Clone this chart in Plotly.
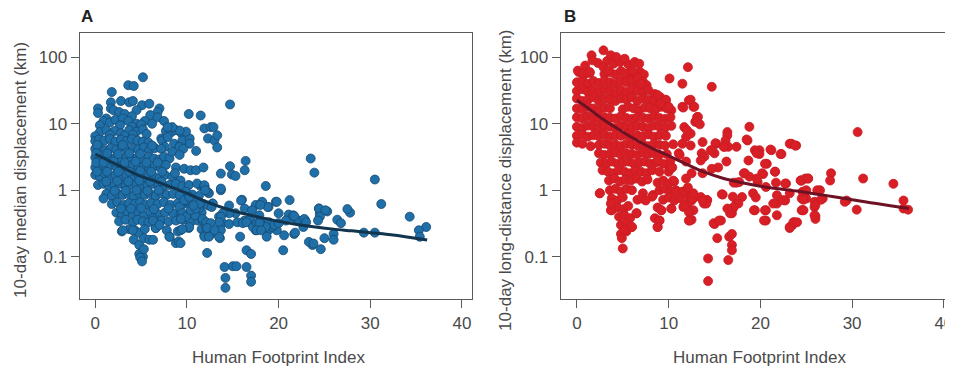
import plotly.graph_objects as go

# page body has an 8px margin, so the figure is 8px smaller than the window and
# all pixel positions below are given in page pixels and shifted by OFF.
OFF = 8
W, H = 953 - OFF, 369 - OFF


def px(x):
    return (x - OFF) / W


def py(y):
    return 1 - (y - OFF) / H


# ---------------- Panel A: 10-day median displacement ----------------
a_x_top = [5.2, 3.6, 4.2, 1.8, 14.7, 10.2, 11.5, 1.7, 2.8, 3.7, 4.1]
a_y_top = [50, 38, 37, 30, 19.5, 14, 13.3, 21, 22, 21, 22]

a_x_hi = [0.3, 0.3, 1.7, 2.0, 5.1, 5.9, 7.0, 6.8, 2.6, 3.2, 4.5, 6.0, 6.8, 7.5, 1.2, 4.0]
a_y_hi = [17, 14.5, 17, 16, 19, 20, 17, 15, 15, 14, 16, 13.5, 12.5, 11, 12, 13]

a_x_10 = [0.9, 1.6, 2.2, 3.0, 3.6, 4.5, 5.4, 6.2, 0.5, 2.7, 4.0, 5.0]
a_y_10 = [11, 10.5, 11.5, 12, 11, 10, 11, 10, 9.5, 9.5, 9, 9.8]

a_x_8 = [0.5, 1.2, 2.1, 2.8, 3.7, 4.5, 5.2, 5.6, 7.7, 8.3, 8.8, 9.4, 0.0, 1.6, 3.2, 4.1, 7.2]
a_y_8 = [7.5, 8.0, 7.8, 7.2, 8.0, 7.6, 8.2, 7.0, 7.8, 7.5, 8.0, 7.2, 6.5, 6.8, 6.6, 6.9, 6.0]

a_x_6 = [0.0, 0.4, 1.0, 1.6, 2.2, 2.8, 3.4, 4.0, 4.6, 5.2, 7.3, 7.9, 8.6, 9.3, 10.2, 12.3, 5.8, 7.6]
a_y_6 = [5.5, 5.8, 5.6, 5.9, 5.4, 5.8, 5.5, 5.9, 5.6, 5.4, 5.6, 6.3, 5.0, 4.8, 5.6, 6.0, 5.2, 4.5]

a_x_6b = [9.5, 10.3, 9.9, 9.2, 8.4, 7.9, 9.2, 11.9, 12.6, 12.9, 13.0, 13.3, 13.3, 11.0, 10.3]
a_y_6b = [5.6, 6.0, 7.6, 7.9, 8.9, 8.9, 4.5, 8.5, 8.9, 8.9, 5.6, 6.7, 4.4, 3.9, 5.0]

a_x_4 = [0.0, 0.5, 1.1, 1.7, 2.3, 2.9, 3.5, 4.1, 4.7, 5.3, 5.9, 6.5, 7.2, 9.6, 0.2, 3.0, 6.2]
a_y_4 = [4.2, 4.4, 4.0, 4.3, 4.1, 4.5, 4.0, 4.3, 4.1, 4.4, 4.0, 4.3, 4.2, 4.2, 4.8, 4.8, 4.7]

a_x_3 = [0.0, 0.5, 1.0, 1.6, 2.2, 2.8, 3.4, 4.0, 4.6, 5.2, 5.8, 6.4, 7.0, 7.5, 8.1, 8.4, 9.2,
         0.1, 1.3, 2.5, 3.7, 4.9]
a_y_3 = [3.1, 2.9, 3.2, 3.0, 3.1, 2.9, 3.2, 3.0, 3.1, 2.9, 3.2, 3.0, 2.9, 3.2, 3.0, 3.8, 3.4,
         3.6, 3.6, 3.5, 3.6, 3.5]

a_x_2 = [0.0, 0.5, 1.1, 1.7, 2.3, 2.9, 3.5, 4.1, 4.7, 5.3, 5.9, 6.5, 7.1, 7.7, 8.8, 9.7, 10.4,
         11.0, 11.8, 0.1, 0.9, 2.0, 3.2, 4.4, 5.6, 6.8]
a_y_2 = [2.2, 2.3, 2.1, 2.4, 2.2, 2.3, 2.1, 2.4, 2.2, 2.3, 2.1, 2.3, 2.2, 2.4, 2.2, 2.1, 2.0,
         2.0, 2.2, 2.6, 2.6, 2.7, 2.6, 2.7, 2.6, 2.6]

a_x_16 = [0.0, 0.5, 1.0, 1.6, 2.2, 2.8, 3.4, 4.0, 4.6, 5.2, 5.8, 6.4, 7.0, 7.6, 8.4,
          0.2, 1.3, 2.5, 3.7, 4.9, 6.1, 7.3, 8.7, 9.3]
a_y_16 = [1.7, 1.6, 1.8, 1.6, 1.7, 1.5, 1.7, 1.6, 1.8, 1.5, 1.7, 1.6, 1.5, 1.7, 1.6,
          1.9, 1.9, 1.9, 1.9, 1.95, 1.9, 1.9, 1.8, 1.4]

a_x_12 = [0.3, 0.9, 1.5, 2.1, 2.7, 3.3, 3.9, 4.5, 5.1, 5.7, 6.3, 6.9, 7.5, 8.1, 8.8, 9.5, 10.2,
          11.5, 11.1, 11.9, 9.9, 1.2, 2.4, 3.6, 4.8, 6.0, 7.2]
a_y_12 = [1.2, 1.25, 1.15, 1.2, 1.25, 1.15, 1.2, 1.25, 1.2, 1.15, 1.25, 1.2, 1.15, 1.2, 1.25, 1.15, 1.2,
          1.15, 1.26, 1.12, 0.95, 1.35, 1.38, 1.35, 1.4, 1.36, 1.35]

a_x_09 = [1.2, 1.8, 2.4, 3.0, 3.6, 4.2, 4.8, 5.4, 6.0, 6.6, 7.2, 7.8, 8.5, 9.2, 10.6, 11.3, 12.4,
          0.9, 2.1, 3.3, 4.5, 5.7, 6.9]
a_y_09 = [0.88, 0.82, 0.9, 0.85, 0.88, 0.82, 0.9, 0.85, 0.88, 0.82, 0.9, 0.85, 0.88, 0.84, 0.86, 0.82, 0.9,
          0.75, 0.98, 0.99, 1.0, 0.98, 1.0]

a_x_06 = [1.8, 2.4, 3.1, 3.7, 4.3, 4.9, 5.5, 6.1, 6.8, 7.5, 8.2, 9.0, 9.6, 10.4, 11.0, 11.8, 12.8,
          9.9, 16.0, 19.7]
a_y_06 = [0.62, 0.66, 0.6, 0.64, 0.62, 0.66, 0.6, 0.64, 0.62, 0.66, 0.6, 0.64, 0.62, 0.6, 0.65, 0.62, 0.63,
          0.7, 0.72, 0.67]

a_x_05 = [2.3, 2.9, 3.5, 4.1, 4.7, 5.3, 6.0, 6.8, 7.6, 8.5, 9.3, 10.0, 10.8, 11.6, 2.8, 3.9, 5.0, 6.4, 8.0]
a_y_05 = [0.46, 0.42, 0.47, 0.44, 0.46, 0.42, 0.47, 0.44, 0.46, 0.45, 0.45, 0.43, 0.42, 0.46,
          0.53, 0.53, 0.54, 0.52, 0.53]

a_x_03 = [2.6, 3.3, 4.1, 4.6, 5.2, 5.8, 7.2, 8.0, 9.6, 10.4, 11.2, 6.3, 6.6]
a_y_03 = [0.34, 0.36, 0.33, 0.36, 0.34, 0.33, 0.35, 0.34, 0.36, 0.33, 0.35, 0.38, 0.27]

a_x_02 = [2.9, 3.7, 4.3, 4.8, 5.4, 7.8, 9.0, 10.2, 11.6, 12.4, 3.0, 4.1]
a_y_02 = [0.24, 0.26, 0.25, 0.23, 0.26, 0.25, 0.24, 0.27, 0.26, 0.28, 0.25, 0.25]

a_x_low = [4.2, 4.8, 5.3, 5.9, 8.1, 8.8, 9.1, 9.3, 4.8, 5.2, 4.9, 5.1, 5.3, 6.3]
a_y_low = [0.18, 0.15, 0.19, 0.18, 0.2, 0.16, 0.17, 0.16, 0.11, 0.1, 0.097, 0.085, 0.13, 0.18]

a_x_right = [13.7, 13.7, 14.7, 14.9, 15.3, 16.4, 16.3, 11.9, 12.2, 23.5, 23.9, 30.5, 31.2, 34.3,
             36.1, 35.3, 35.4, 29.3, 30.5, 27.8, 27.5, 26.4, 26.8, 25.3, 24.4, 24.5, 25.0, 26.0,
             26.0, 24.6, 23.7, 23.3, 20.5, 12.2]
a_y_right = [1.78, 1.0, 2.3, 1.72, 1.64, 2.76, 2.0, 1.15, 0.95, 3.0, 1.84, 1.45, 0.62, 0.40,
             0.28, 0.25, 0.2, 0.23, 0.23, 0.46, 0.52, 0.36, 0.32, 0.48, 0.53, 0.45, 0.19, 0.22,
             0.18, 0.13, 0.15, 0.167, 0.125, 0.114]

a_x_vlow = [15.0, 15.4, 14.1, 16.5, 14.2, 14.2, 17.0, 17.0, 16.5, 17.0, 15.8]
a_y_vlow = [0.072, 0.072, 0.07, 0.07, 0.048, 0.034, 0.052, 0.042, 0.125, 0.11, 0.2]

a_x_mid = [18.6, 18.9, 18.2, 17.5, 19.8, 21.2, 21.1, 21.6, 21.7, 20.0, 20.8, 19.8, 18.9, 20.6,
           21.7, 15.9, 16.3, 17.1, 15.3, 16.3, 17.3, 17.5, 17.9, 18.6, 19.3, 22.2, 22.9, 22.7,
           12.8, 13.5, 13.9, 13.5, 13.6, 14.6, 14.6, 11.3, 11.7, 12.1, 12.6, 11.9, 10.9, 9.2,
           9.5, 9.9, 8.8, 9.3, 8.1, 6.6, 6.3, 7.0]
a_y_mid = [1.16, 0.56, 0.65, 0.6, 0.67, 0.71, 0.43, 0.42, 0.38, 0.45, 0.35, 0.25, 0.25, 0.21,
           0.22, 0.7, 0.53, 0.5, 0.45, 0.35, 0.31, 0.25, 0.42, 0.33, 0.28, 0.35, 0.35, 0.28,
           0.63, 0.4, 0.32, 0.25, 0.19, 0.45, 0.31, 0.53, 0.35, 0.28, 0.22, 0.21, 0.42, 0.56,
           0.45, 0.7, 0.35, 0.25, 0.2, 0.27, 0.35, 0.3]

a_x_mid2 = [11.9, 12.0, 13.7, 18.2, 18.8, 18.0, 13.9, 13.7, 13.5, 13.7, 13.5, 11.7, 12.1, 12.6,
            12.2, 13.0, 11.9, 12.4, 10.25, 9.5, 9.9, 9.35, 10.4, 10.97, 9.7, 10.25, 12.3, 12.7,
            11.4, 10.7, 14.6, 15.5, 16.1, 16.9, 16.5, 17.2, 17.6, 21.7, 22.8, 23.0, 24.4, 25.1,
            24.5, 24.3, 23.8, 21.8, 18.95, 19.5, 20.0, 18.6, 17.9, 17.6, 18.1, 18.7]
a_y_mid2 = [1.19, 1.0, 1.06, 0.67, 0.56, 0.6, 0.45, 0.4, 0.33, 0.25, 0.2, 0.37, 0.33, 0.32,
            0.27, 0.25, 0.2, 0.2, 0.28, 0.26, 0.4, 0.37, 0.5, 0.53, 0.71, 0.79, 0.59, 0.56,
            0.63, 0.59, 0.59, 0.33, 0.32, 0.37, 0.33, 0.28, 0.32, 0.41, 0.37, 0.33, 0.53, 0.5,
            0.4, 0.35, 0.158, 0.23, 0.33, 0.3, 0.32, 0.28, 0.32, 0.25, 0.25, 0.2]

# smoothed trend
a_fit_x = [0, 1, 2, 3, 4, 5, 6, 7, 8, 9, 10, 12, 14, 16, 18, 20, 22, 24, 26, 28, 30, 32, 34, 36.2]
a_fit_y = [3.5, 3.0, 2.55, 2.2, 1.85, 1.62, 1.45, 1.3, 1.15, 1.02, 0.9, 0.68, 0.54, 0.45, 0.39,
           0.34, 0.305, 0.28, 0.26, 0.245, 0.23, 0.215, 0.198, 0.178]

# ---------------- Panel B: 10-day long-distance displacement ----------------
b_x_80 = [0.9, 2.3, 3.3, 4.0, 4.7, 5.6]
b_y_80 = [75, 82, 88, 80, 85, 78]
b_x_58 = [0.2, 0.8, 1.4, 3.0, 3.6, 4.2, 4.8, 5.5, 6.1, 6.9, 7.3]
b_y_58 = [60, 55, 58, 56, 60, 55, 62, 57, 54, 60, 55]
b_x_43 = [0.0, 0.6, 1.2, 1.8, 2.4, 3.0, 3.6, 4.2, 4.8, 5.4, 6.0, 6.6, 7.2, 7.6]
b_y_43 = [42, 45, 40, 44, 41, 45, 42, 40, 44, 42, 45, 40, 43, 38]
b_x_31 = [0.0, 0.6, 1.2, 1.8, 2.4, 3.0, 3.6, 4.2, 4.8, 5.4, 6.0, 6.6, 7.2, 7.8, 8.5]
b_y_31 = [31, 33, 30, 32, 30, 33, 31, 29, 32, 30, 33, 31, 30, 32, 28]
b_x_23 = [0.0, 0.6, 1.2, 1.8, 2.4, 3.0, 3.6, 4.2, 4.8, 5.4, 6.0, 6.6, 7.2, 7.8, 8.4, 9.1, 9.7]
b_y_23 = [24, 22, 23, 25, 22, 24, 23, 22, 24, 23, 25, 22, 24, 23, 22, 25, 23]
b_x_17 = [0.0, 0.6, 1.2, 1.8, 2.4, 3.0, 3.6, 5.0, 5.6, 6.2, 6.8, 7.4, 8.0, 8.6, 9.2, 9.8, 10.3]
b_y_17 = [17, 16.5, 18, 17, 16, 17.5, 17, 16.5, 18, 17, 16, 17.5, 17, 16.5, 18, 17, 16]
b_x_12 = [0.0, 0.6, 1.2, 1.8, 2.4, 3.0, 3.6, 4.2, 4.8, 5.4, 6.0, 6.6, 7.2, 7.8, 8.4, 9.0, 9.6, 10.2]
b_y_12 = [12.5, 12, 13, 12.2, 11.8, 12.6, 12.3, 12, 13, 12.2, 11.8, 12.6, 12.3, 12, 13, 12.2, 11.8, 12.6]
b_x_9 = [0.0, 0.6, 1.2, 1.8, 2.4, 3.0, 3.6, 4.2, 4.8, 5.4, 6.0, 6.6, 7.2, 7.8, 8.4, 9.0, 9.6, 10.3]
b_y_9 = [9, 8.6, 9.4, 9, 8.7, 9.3, 9, 8.6, 9.4, 9, 8.7, 9.3, 9, 8.6, 9.4, 9, 8.7, 9.3]
b_x_7 = [0.0, 0.6, 1.2, 1.8, 2.4, 3.0, 3.6, 4.2, 4.8, 5.4, 6.0, 6.6, 7.2, 7.8, 8.4, 9.0, 9.7]
b_y_7 = [6.6, 6.9, 6.4, 6.7, 6.5, 6.9, 6.4, 6.7, 6.6, 6.9, 6.4, 6.7, 6.5, 6.9, 6.4, 6.7, 6.6]
b_x_5 = [0.0, 0.6, 1.5, 2.4, 3.0, 3.6, 4.2, 4.8, 5.4, 6.0, 6.6, 7.2, 7.8, 8.4, 9.0, 9.6, 10.5]
b_y_5 = [5.2, 5.0, 4.6, 4.8, 5.0, 4.7, 4.9, 4.6, 5.0, 4.8, 4.7, 4.9, 4.6, 5.0, 4.8, 4.7, 4.9]
b_x_35 = [2.4, 3.0, 3.6, 4.2, 4.8, 5.4, 6.0, 6.6, 7.2, 7.8, 8.4, 9.0, 9.8]
b_y_35 = [3.6, 3.4, 3.5, 3.7, 3.4, 3.6, 3.5, 3.4, 3.7, 3.5, 3.6, 3.4, 3.5]
b_x_26 = [2.6, 3.2, 3.8, 4.4, 5.0, 5.6, 6.2, 6.8, 7.4, 8.0, 8.6, 9.4, 10.1]
b_y_26 = [2.6, 2.5, 2.7, 2.5, 2.6, 2.7, 2.5, 2.6, 2.7, 2.5, 2.6, 2.5, 2.1]
b_x_19 = [2.8, 3.4, 4.0, 4.6, 5.2, 5.8, 6.4, 7.0, 7.6, 8.2, 9.0, 10.0]
b_y_19 = [2.0, 1.9, 1.8, 2.0, 1.9, 1.8, 2.0, 1.9, 1.8, 2.0, 1.9, 1.9]
b_x_14 = [3.5, 4.1, 4.7, 5.3, 5.9, 6.5, 7.1, 7.7, 8.8, 9.4, 10.0, 10.6]
b_y_14 = [1.4, 1.5, 1.35, 1.45, 1.4, 1.5, 1.35, 1.45, 1.3, 1.4, 1.25, 1.35]
b_x_10 = [2.5, 3.6, 4.2, 4.8, 5.4, 6.0, 7.2, 8.3, 9.0, 9.6, 10.2, 10.8, 11.5, 12.0]
b_y_10 = [0.9, 1.0, 1.05, 0.95, 1.05, 1.0, 0.9, 0.85, 1.0, 1.05, 0.95, 1.0, 0.95, 0.9]
b_x_075 = [3.8, 4.4, 5.0, 6.6, 7.1, 8.2, 9.4, 10.0, 10.6, 11.3, 12.3, 12.8]
b_y_075 = [0.75, 0.7, 0.78, 0.72, 0.75, 0.8, 0.72, 0.78, 0.7, 0.75, 0.72, 0.78]
b_x_055 = [3.8, 4.4, 5.1, 5.6, 8.8, 10.3, 11.6, 12.4, 9.2]
b_y_055 = [0.5, 0.55, 0.52, 0.58, 0.55, 0.53, 0.56, 0.5, 0.5]
b_x_04 = [4.6, 5.2, 5.8, 8.5, 12.5, 9.0, 6.5]
b_y_04 = [0.4, 0.42, 0.38, 0.38, 0.36, 0.35, 0.45]
b_x_03 = [4.8, 5.4, 6.0, 8.8, 4.8, 5.4, 4.9, 5.0, 5.2]
b_y_03 = [0.3, 0.32, 0.28, 0.28, 0.22, 0.24, 0.19, 0.133, 0.25]

b_x_up = [2.9, 1.6, 1.7, 3.7, 4.3, 5.2, 6.3, 6.8, 0.1, 0.6, 1.4, 2.9, 3.4, 5.2, 6.1, 6.6, 7.0,
          8.8, 9.7, 10.0, 9.1, 12.2, 12.7, 11.5, 13.1, 12.9, 11.7, 11.9, 12.4, 11.5, 12.0]
b_y_up = [127, 107, 90, 107, 101, 95, 85, 80, 63, 57, 60, 71, 63, 57, 63, 50, 40,
          27, 22.5, 18, 20, 22.5, 18, 18, 12.6, 10.7, 8.9, 6.3, 7.1, 5.0, 8.0]

b_x_r1 = [12.1, 10.1, 11.5, 14.7, 12.4, 12.8, 11.6, 13.2, 13.1, 13.4, 18.8, 30.6, 13.7, 13.6,
          14.7, 15.0, 16.4, 16.4, 16.1, 16.5, 17.4, 15.2, 18.6, 19.9, 19.9, 21.2, 22.3, 23.4, 23.9]
b_y_r1 = [71, 48, 40, 36, 23, 18, 17.5, 12.7, 10.6, 9.8, 9, 7.5, 5.3, 3.6,
          4.0, 3.6, 7.5, 6.7, 4.5, 4.5, 4.5, 5.0, 5.6, 4.0, 3.5, 4.0, 3.5, 5.0, 4.7]

b_x_r2 = [18.7, 20.7, 16.3, 15.4, 13.7, 14.7, 17.4, 17.7, 18.3, 18.8, 20.3, 19.7, 21.6, 21.7,
          20.6, 22.8, 24.5, 25.2, 27.7, 27.6, 31.2, 34.5, 35.6, 35.6, 36.1, 29.4, 30.5]
b_y_r2 = [2.8, 2.5, 2.7, 2.2, 1.8, 2.1, 1.3, 1.33, 1.8, 1.6, 1.75, 1.33, 1.9, 1.3,
          1.12, 1.26, 1.4, 1.5, 1.8, 1.4, 1.5, 1.25, 0.7, 0.53, 0.51, 0.7, 0.51]

b_x_r3 = [26.5, 26.8, 25.9, 25.9, 26.0, 26.0, 24.6, 25.0, 24.5, 23.2, 22.7, 21.8, 21.8, 23.7,
          23.5, 23.2, 20.6, 20.6, 19.4, 19.2, 19.5, 17.0, 17.4, 17.0, 16.9, 15.9, 15.7, 15.0]
b_y_r3 = [1.0, 0.75, 0.67, 0.56, 0.41, 0.37, 0.95, 0.75, 0.5, 0.9, 0.7, 0.63, 0.42, 0.33,
          0.3, 0.27, 0.5, 0.35, 0.5, 0.9, 0.78, 0.8, 0.63, 0.53, 0.45, 0.86, 0.35, 0.31]

b_x_r4 = [19.4, 19.6, 21.1, 22.2, 20.5, 21.6, 20.2, 19.6, 18.2, 17.1, 23.2, 23.8, 24.4, 24.9,
          22.7, 21.8, 21.4, 22.5, 20.5, 20.4, 19.3, 18.0, 17.6, 17.1, 16.7, 16.4, 15.8, 14.2,
          23.2, 23.6, 24.7, 24.7, 24.5, 16.2, 16.0, 18.5, 15.1, 14.6, 13.9]
b_y_r4 = [4.0, 3.6, 4.1, 3.5, 2.5, 1.9, 1.8, 1.5, 1.8, 1.3, 5.0, 4.7, 1.4, 1.5,
          1.26, 0.84, 0.63, 0.71, 0.5, 0.35, 0.5, 0.79, 0.63, 0.56, 0.45, 0.53, 0.87, 0.71,
          0.28, 0.33, 0.5, 0.89, 0.75, 5.6, 4.5, 5.8, 5.1, 4.0, 3.2]

b_x_r5 = [24.4, 25.2, 25.0, 26.2, 26.6, 24.7, 26.0, 25.9, 24.6, 24.0, 29.2]
b_y_r5 = [1.4, 1.5, 1.0, 1.0, 0.72, 0.72, 0.6, 0.42, 0.5, 0.33, 0.67]

b_x_mid = [12.5, 12.5, 12.7, 12.3, 12.0, 10.3, 9.2, 9.0, 8.8, 7.5, 6.5, 6.0, 5.2, 3.7, 3.7, 2.5,
           10.2, 11.1, 11.9, 12.4, 12.2, 12.2, 11.7, 13.5, 13.85, 14.2, 13.5, 12.6, 10.4, 10.2,
           8.8, 14.9, 10.3, 11.2, 10.5, 11.9, 10.8, 11.6, 12.1, 12.7, 12.5]
b_y_mid = [0.8, 0.7, 0.5, 0.35, 0.6, 0.53, 0.5, 0.35, 0.28, 0.7, 0.45, 0.28, 0.25, 0.5, 0.63, 0.9,
           2.8, 3.6, 2.7, 4.7, 0.47, 0.35, 0.59, 0.79, 0.63, 0.71, 2.8, 0.75, 2.2, 2.1,
           2.8, 0.32, 2.2, 3.4, 1.4, 1.5, 0.95, 0.95, 1.1, 0.9, 1.8]

b_x_low = [15.3, 16.6, 16.9, 16.9, 16.9, 16.5, 14.3, 14.3, 14.1, 13.7, 15.5]
b_y_low = [0.19, 0.2, 0.22, 0.15, 0.125, 0.089, 0.094, 0.043, 0.63, 0.7, 0.35]

b_fit_x = [0, 1, 2, 3, 4, 5, 6, 7, 8, 9, 10, 12, 14, 16, 18, 20, 22, 24, 26, 28, 30, 32, 34, 36.2]
b_fit_y = [22.5, 18, 14.2, 11.3, 9.2, 7.5, 6.2, 5.2, 4.4, 3.8, 3.3, 2.45, 1.85, 1.5, 1.3, 1.15,
           1.05, 0.97, 0.88, 0.8, 0.72, 0.65, 0.59, 0.53]

x_ticks = [0, 10, 20, 30, 40]
y_ticks = [0.1, 1, 10, 100]
y_tick_text = ["0.1", "1", "10", "100"]


def cat(*lists):
    out = []
    for l in lists:
        out.extend(l)
    return out


a_groups = [(a_x_top, a_y_top), (a_x_hi, a_y_hi), (a_x_10, a_y_10), (a_x_8, a_y_8),
            (a_x_6, a_y_6), (a_x_6b, a_y_6b), (a_x_4, a_y_4), (a_x_3, a_y_3), (a_x_2, a_y_2),
            (a_x_16, a_y_16), (a_x_12, a_y_12), (a_x_09, a_y_09), (a_x_06, a_y_06),
            (a_x_05, a_y_05), (a_x_03, a_y_03), (a_x_02, a_y_02), (a_x_low, a_y_low),
            (a_x_right, a_y_right), (a_x_vlow, a_y_vlow), (a_x_mid, a_y_mid), (a_x_mid2, a_y_mid2)]
b_groups = [(b_x_80, b_y_80), (b_x_58, b_y_58), (b_x_43, b_y_43), (b_x_31, b_y_31),
            (b_x_23, b_y_23), (b_x_17, b_y_17), (b_x_12, b_y_12), (b_x_9, b_y_9), (b_x_7, b_y_7),
            (b_x_5, b_y_5), (b_x_35, b_y_35), (b_x_26, b_y_26), (b_x_19, b_y_19),
            (b_x_14, b_y_14), (b_x_10, b_y_10), (b_x_075, b_y_075), (b_x_055, b_y_055),
            (b_x_04, b_y_04), (b_x_03, b_y_03), (b_x_up, b_y_up), (b_x_r1, b_y_r1),
            (b_x_r2, b_y_r2), (b_x_r3, b_y_r3), (b_x_r4, b_y_r4), (b_x_r5, b_y_r5),
            (b_x_mid, b_y_mid), (b_x_low, b_y_low)]
for gx, gy in a_groups + b_groups:
    assert len(gx) == len(gy), (len(gx), len(gy), gx[:3])

ax = cat(*[g[0] for g in a_groups])
ay = cat(*[g[1] for g in a_groups])
bx = cat(*[g[0] for g in b_groups])
by = cat(*[g[1] for g in b_groups])

FONT = "Liberation Sans, Arial, Helvetica, sans-serif"
TXT = "#4a4a4a"
FRAME = "#5a5a5a"

fig = go.Figure()
fig.add_trace(go.Scatter(x=ax, y=ay, mode="markers", xaxis="x", yaxis="y",
                         marker=dict(size=9, color="#1f6fa9", line=dict(color="#164a72", width=0.8)),
                         hoverinfo="x+y"))
fig.add_trace(go.Scatter(x=a_fit_x, y=a_fit_y, mode="lines", xaxis="x", yaxis="y",
                         line=dict(color="#11344f", width=3, shape="spline", smoothing=1)))
fig.add_trace(go.Scatter(x=bx, y=by, mode="markers", xaxis="x2", yaxis="y2",
                         marker=dict(size=9, color="#d91f26", line=dict(color="#c81c24", width=0.8)),
                         hoverinfo="x+y"))
fig.add_trace(go.Scatter(x=b_fit_x, y=b_fit_y, mode="lines", xaxis="x2", yaxis="y2",
                         line=dict(color="#6d1224", width=3, shape="spline", smoothing=1)))

ydom = [py(299), py(33)]
common_x = dict(tickvals=x_ticks, ticks="outside", ticklen=8, tickwidth=1, tickcolor=FRAME,
                showgrid=False, zeroline=False, showline=True, linecolor=FRAME, linewidth=1.3,
                tickfont=dict(family=FONT, size=17, color=TXT), fixedrange=True,
                ticklabeloverflow="allow")
common_y = dict(type="log", tickvals=y_ticks, ticktext=y_tick_text, ticks="outside", ticklen=8,
                tickwidth=1, tickcolor=FRAME, showgrid=False, zeroline=False, showline=True,
                linecolor=FRAME, linewidth=1.3, tickfont=dict(family=FONT, size=17, color=TXT),
                range=[-1.636, 2.365], fixedrange=True)

ann_font = dict(family=FONT, size=17, color=TXT)
fig.update_layout(
    width=W, height=H, margin=dict(l=0, r=0, t=0, b=0),
    paper_bgcolor="white", plot_bgcolor="white", showlegend=False,
    xaxis=dict(common_x, domain=[px(80), px(474)], range=[-1.7, 41.1], anchor="y", mirror=True),
    yaxis=dict(common_y, domain=ydom, anchor="x", mirror=True),
    xaxis2=dict(common_x, domain=[px(563), 1.0], range=[-1.77, 40.56], anchor="y2", mirror=True),
    yaxis2=dict(common_y, domain=ydom, anchor="x2", mirror=False),
    annotations=[
        dict(text="<b>A</b>", x=px(87), y=py(17), xref="paper", yref="paper", showarrow=False,
             xanchor="center", yanchor="middle", font=dict(family=FONT, size=17, color="#222")),
        dict(text="<b>B</b>", x=px(572), y=py(16), xref="paper", yref="paper", showarrow=False,
             xanchor="center", yanchor="middle", font=dict(family=FONT, size=17, color="#222")),
        dict(text="10-day median displacement (km)", x=px(21), y=py(170), xref="paper",
             yref="paper", showarrow=False, textangle=-90, xanchor="center", yanchor="middle",
             font=ann_font),
        dict(text="10-day long-distance displacement (km)", x=px(507), y=py(180), xref="paper",
             yref="paper", showarrow=False, textangle=-90, xanchor="center", yanchor="middle",
             font=ann_font),
        dict(text="Human Footprint Index", x=px(280), y=py(357), xref="paper", yref="paper",
             showarrow=False, xanchor="center", yanchor="middle", font=ann_font),
        dict(text="Human Footprint Index", x=px(763), y=py(357), xref="paper", yref="paper",
             showarrow=False, xanchor="center", yanchor="middle", font=ann_font),
    ],
)

fig.write_html("out.html")
